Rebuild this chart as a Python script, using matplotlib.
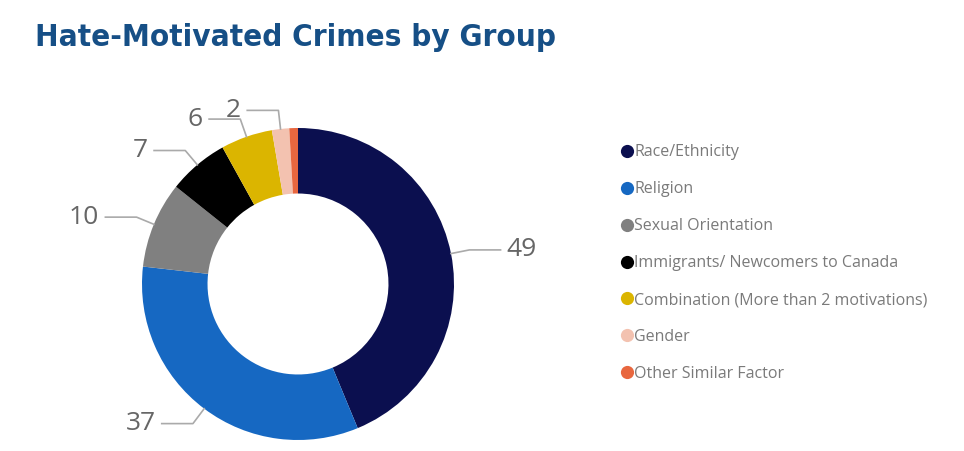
import numpy as np
import matplotlib.pyplot as plt
from matplotlib.lines import Line2D

categories = ['Race/Ethnicity', 'Religion', 'Sexual Orientation',
              'Immigrants/ Newcomers to Canada',
              'Combination (More than 2 motivations)', 'Gender',
              'Other Similar Factor']
values = [49, 37, 10, 7, 6, 2, 1]
show_label = [True, True, True, True, True, True, False]
colors = ['#0b0f4f', '#1668c2', '#808080', '#000000', '#dbb500', '#f3c2b0', '#e8673f']

W, H = 964, 451
cx, cy, R = 298, 284, 156

fig = plt.figure(figsize=(W / 100, H / 100), dpi=100)
fig.patch.set_facecolor('white')

# axes covering pixel box, scaled so 1 data unit = R pixels
px0, px1, py_top, py_bot = 0, 600, 60, 451
ax = fig.add_axes([px0 / W, (H - py_bot) / H, (px1 - px0) / W, (py_bot - py_top) / H])

wedges, _ = ax.pie(values, colors=colors, startangle=90, counterclock=False,
                   radius=1.0, wedgeprops=dict(width=0.42, edgecolor='none'))
ax.set_aspect('auto')
ax.set_xlim((px0 - cx) / R, (px1 - cx) / R)
ax.set_ylim((cy - py_bot) / R, (cy - py_top) / R)
ax.axis('off')

# leader lines + value labels
label_kw = dict(fontsize=19, color='#666666', family='Open Sans')
line_kw = dict(color='#aaaaaa', lw=1.2)
total = sum(values)
cum = 0
for v, show in zip(values, show_label):
    mid = cum + v / 2
    cum += v
    if not show:
        continue
    ang = np.deg2rad(90 - mid / total * 360)
    x0, y0 = 1.0 * np.cos(ang), 1.0 * np.sin(ang)
    x1, y1 = 1.12 * np.cos(ang), 1.12 * np.sin(ang)
    side = 1 if x1 > 0 else -1
    x2 = x1 + side * 0.2
    ax.plot([x0, x1, x2], [y0, y1, y1], **line_kw)
    ax.text(x2 + side * 0.04, y1, str(v), ha='left' if side > 0 else 'right',
            va='center', **label_kw)

# legend
handles = [Line2D([0], [0], marker='o', linestyle='none', markersize=9.5,
                  markerfacecolor=c, markeredgecolor='none') for c in colors]
leg = fig.legend(handles, categories, loc='upper left',
                 bbox_to_anchor=(607 / W, 1 - 130 / H), frameon=False,
                 handlelength=0.7, handletextpad=0.1, labelspacing=1.31,
                 prop=dict(family='Open Sans', size=11.5))
for t in leg.get_texts():
    t.set_color('#7a7a7a')

fig.text(35 / W, 1 - 38 / H, 'Hate-Motivated Crimes by Group', fontsize=22.5,
         fontweight='bold', fontstretch='condensed', family='DejaVu Sans',
         color='#164f86', ha='left', va='center')

fig.savefig('out.png', dpi=100)
